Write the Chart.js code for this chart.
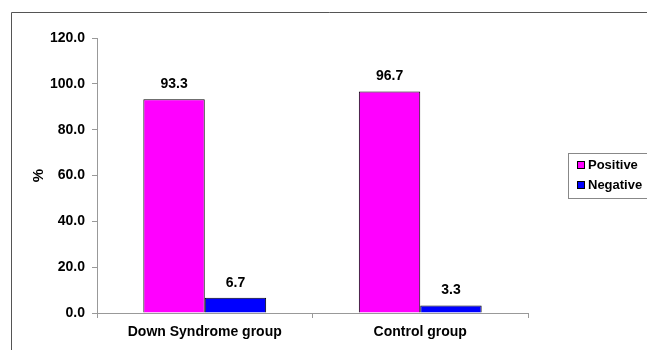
<!DOCTYPE html>
<html>
<head>
<meta charset="utf-8">
<script src="https://cdn.jsdelivr.net/npm/chart.js@4.4.0/dist/chart.umd.min.js"></script>
<style>
  html, body { margin: 0; padding: 0; background: #fff; }
  #wrap { width: 647px; height: 350px; position: relative; }
</style>
</head>
<body>
<div id="wrap"><canvas id="c" width="647" height="350"></canvas></div>
<script>
// Groups on the x axis
const categories = ['Down Syndrome group', 'Control group'];
// Percentage of each result per group
const positiveValues = [93.3, 96.7];
const negativeValues = [6.7, 3.3];
const seriesNames = ['Positive', 'Negative'];
const seriesColors = ['#FF00FF', '#0000FF'];
const yTicks = [0, 20, 40, 60, 80, 100, 120];

const FONT = '"Liberation Sans", Arial, sans-serif';

// Frame around the whole figure
const framePlugin = {
  id: 'frame',
  beforeDraw(chart) {
    const ctx = chart.ctx;
    ctx.save();
    ctx.strokeStyle = '#555';
    ctx.lineWidth = 1;
    ctx.beginPath();
    ctx.moveTo(11.5, 360);
    ctx.lineTo(11.5, 12.5);
    ctx.lineTo(660, 12.5);
    ctx.stroke();
    ctx.restore();
  }
};

// Value written above each bar
const valueLabels = {
  id: 'valueLabels',
  afterDatasetsDraw(chart) {
    const ctx = chart.ctx;
    ctx.save();
    ctx.font = 'bold 14px ' + FONT;
    ctx.fillStyle = '#000';
    ctx.textAlign = 'center';
    ctx.textBaseline = 'bottom';
    chart.data.datasets.forEach((ds, i) => {
      chart.getDatasetMeta(i).data.forEach((bar, j) => {
        ctx.fillText(ds.data[j].toFixed(1), bar.x, bar.y - 8);
      });
    });
    ctx.restore();
  }
};

// Boxed legend on the right side
const boxLegend = {
  id: 'boxLegend',
  afterDraw(chart) {
    const ctx = chart.ctx;
    ctx.save();
    ctx.strokeStyle = '#888';
    ctx.lineWidth = 1;
    ctx.strokeRect(568.5, 153.5, 100, 45);
    ctx.font = 'bold 13px ' + FONT;
    ctx.textBaseline = 'middle';
    ctx.textAlign = 'left';
    chart.data.datasets.forEach((ds, i) => {
      const y = 165 + i * 20;
      ctx.fillStyle = ds.backgroundColor;
      ctx.fillRect(577.5, y - 3.5, 7, 7);
      ctx.strokeStyle = '#000';
      ctx.strokeRect(577.5, y - 3.5, 7, 7);
      ctx.fillStyle = '#000';
      ctx.fillText(ds.label, 588, y + 0.5);
    });
    ctx.restore();
  }
};

new Chart(document.getElementById('c'), {
  type: 'bar',
  data: {
    labels: categories,
    datasets: [
      { label: seriesNames[0], data: positiveValues, backgroundColor: seriesColors[0], borderColor: '#000', borderWidth: 1 },
      { label: seriesNames[1], data: negativeValues, backgroundColor: seriesColors[1], borderColor: '#000', borderWidth: 1 }
    ]
  },
  options: {
    responsive: false,
    animation: false,
    layout: { padding: { left: 0, top: 38, right: 119, bottom: 0 } },
    datasets: { bar: { categoryPercentage: 0.57, barPercentage: 1.0 } },
    plugins: { legend: { display: false }, tooltip: { enabled: false } },
    scales: {
      x: {
        afterFit(scale) { scale.height = 37; },
        grid: { offset: true, drawOnChartArea: false, color: '#999', tickLength: 5, tickColor: '#999' },
        border: { color: '#999', width: 1 },
        ticks: { color: '#000', font: { family: FONT, size: 14, weight: 'bold' }, padding: 6 }
      },
      y: {
        min: 0, max: 120,
        afterFit(scale) { scale.width = 97; },
        afterBuildTicks(scale) { scale.ticks = yTicks.map(v => ({ value: v })); },
        grid: { drawOnChartArea: false, color: '#999', tickLength: 5, tickColor: '#999' },
        border: { color: '#999', width: 1 },
        ticks: { color: '#000', font: { family: FONT, size: 14, weight: 'bold' }, padding: 7,
                 callback: v => Number(v).toFixed(1) },
        title: { display: true, text: '%', color: '#000', font: { family: FONT, size: 15, weight: 'bold' },
                 padding: { top: 30, bottom: 0 } }
      }
    }
  },
  plugins: [framePlugin, valueLabels, boxLegend]
});
</script>
</body>
</html>
